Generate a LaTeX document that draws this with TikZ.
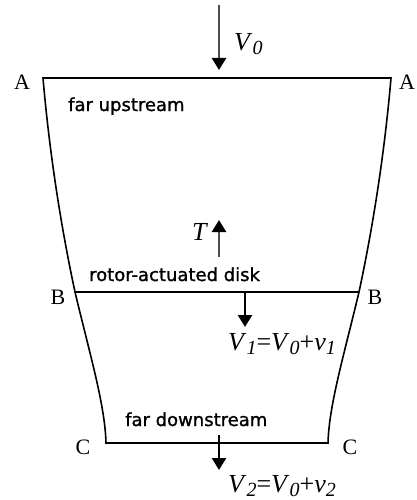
\documentclass[tikz,border=0pt]{standalone}
\usepackage{fontspec}
\setmainfont{Liberation Serif}
\newfontfamily\lblfont[FakeBold=1.2]{DejaVu Sans}
\usetikzlibrary{arrows.meta}
\newcommand{\Vsb}[2]{\textit{#1}\raisebox{-0.35ex}{\fontsize{20}{20}\selectfont\textit{#2}}}
\begin{document}
\begin{tikzpicture}[x=1pt,y=-1pt,
  bound/.style={line width=1.6pt, black},
  flow/.style={line width=2.4pt, -{Triangle[width=14pt,length=12pt,color=black]}},
  sanslbl/.style={font=\lblfont\fontsize{18}{18}\selectfont, inner sep=0pt, anchor=base west},
  ptlbl/.style={font=\fontsize{22}{22}\selectfont, inner sep=0pt},
  vlbl/.style={font=\fontsize{26}{26}\selectfont, inner sep=0pt}]
\useasboundingbox (0,0) rectangle (416,500);
\fill[white] (0,0) rectangle (416,500);
% boundary points
\coordinate (A1) at (43,78);
\coordinate (A2) at (391,78);
\coordinate (B1) at (75,292);
\coordinate (B2) at (359,292);
\coordinate (C1) at (106,443);
\coordinate (C2) at (328,443);
\draw[bound, line join=miter] (C1) .. controls (105,405) and (90,355) .. (B1)
  .. controls (60,222) and (49,148) .. (A1) -- (A2)
  .. controls (385,148) and (374,222) .. (B2)
  .. controls (344,355) and (329,405) .. (C2) -- cycle;
\draw[bound] (B1) -- (B2);
% labels of stations
\node[ptlbl] (la1) at (22,82) {A};
\node[ptlbl] (la2) at (407,82) {A};
\node[ptlbl] (lb1) at (58,297) {B};
\node[ptlbl] (lb2) at (375,297) {B};
\node[ptlbl] (lc1) at (83,447) {C};
\node[ptlbl] (lc2) at (350,447) {C};
% region texts
\node[sanslbl] (up) at (68,111) {far upstream};
\node[sanslbl] (disk) at (89,281) {rotor-actuated disk};
\node[sanslbl] (down) at (125,426) {far downstream};
% arrows
\coordinate (v0s) at (219,5);
\coordinate (v0e) at (219,70);
\draw[flow, draw=gray!60!black] (v0s) -- (v0e);
\node[vlbl, anchor=west] (v0) at (234,44) {\Vsb{V}{0}};
\coordinate (ts) at (219,257);
\coordinate (te) at (219,220);
\draw[flow, draw=gray!60!black] (ts) -- (te);
\node[vlbl] (tl) at (200,232) {\textit{T}};
\coordinate (v1s) at (245,292);
\coordinate (v1e) at (245,327);
\draw[flow] (v1s) -- (v1e);
\node[vlbl, anchor=west] (v1) at (228,344) {\Vsb{V}{1}=\Vsb{V}{0}+\Vsb{v}{1}};
\coordinate (v2s) at (219,435);
\coordinate (v2e) at (219,470);
\draw[flow] (v2s) -- (v2e);
\node[vlbl, anchor=west] (v2) at (228,486) {\Vsb{V}{2}=\Vsb{V}{0}+\Vsb{v}{2}};
\end{tikzpicture}
\end{document}
